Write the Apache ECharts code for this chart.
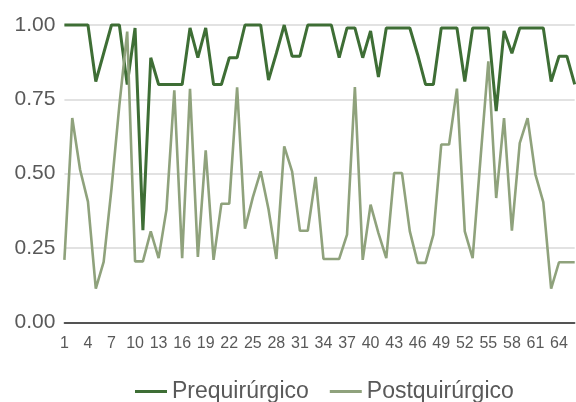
<!DOCTYPE html>
<html>
<head>
<meta charset="utf-8">
<script src="https://cdn.jsdelivr.net/npm/echarts@6/dist/echarts.min.js"></script>
<style>
    html, body { margin: 0; padding: 0; background: #ffffff; }
    #chart { width: 576px; height: 402px; }
</style>
</head>
<body>
<div id="chart"></div>
<script>
// categorias (pacientes)
var categories = ['1', '2', '3', '4', '5', '6', '7', '8', '9', '10',
    '11', '12', '13', '14', '15', '16', '17', '18', '19', '20',
    '21', '22', '23', '24', '25', '26', '27', '28', '29', '30',
    '31', '32', '33', '34', '35', '36', '37', '38', '39', '40',
    '41', '42', '43', '44', '45', '46', '47', '48', '49', '50',
    '51', '52', '53', '54', '55', '56', '57', '58', '59', '60',
    '61', '62', '63', '64', '65', '66'];

var prequirurgico = [1.00, 1.00, 1.00, 1.00, 0.81, 0.905, 1.00, 1.00, 0.80, 0.99,
    0.31, 0.89, 0.80, 0.80, 0.80, 0.80, 0.99, 0.89, 0.99, 0.80,
    0.80, 0.89, 0.89, 1.00, 1.00, 1.00, 0.815, 0.905, 1.00, 0.895,
    0.895, 1.00, 1.00, 1.00, 1.00, 0.89, 0.99, 0.99, 0.89, 0.98,
    0.825, 0.99, 0.99, 0.99, 0.99, 0.90, 0.80, 0.80, 0.99, 0.99,
    0.99, 0.81, 0.99, 0.99, 0.99, 0.71, 0.98, 0.905, 0.99, 0.99,
    0.99, 0.99, 0.81, 0.895, 0.895, 0.80];

var postquirurgico = [0.21, 0.687, 0.513, 0.406, 0.113, 0.203, 0.45, 0.73, 0.978, 0.205,
    0.205, 0.306, 0.216, 0.379, 0.78, 0.216, 0.785, 0.22, 0.578, 0.21,
    0.399, 0.399, 0.79, 0.315, 0.42, 0.508, 0.38, 0.213, 0.592, 0.508,
    0.308, 0.308, 0.489, 0.213, 0.213, 0.213, 0.295, 0.791, 0.21, 0.396,
    0.30, 0.216, 0.502, 0.502, 0.306, 0.20, 0.20, 0.295, 0.598, 0.598,
    0.786, 0.306, 0.216, 0.55, 0.878, 0.418, 0.687, 0.308, 0.603, 0.687,
    0.497, 0.404, 0.113, 0.202, 0.202, 0.202];

var seriesNames = ['Prequirúrgico', 'Postquirúrgico'];

var dom = document.getElementById('chart');
var myChart = echarts.init(dom, null, { renderer: 'canvas' });
var option = {
    animation: false,
    backgroundColor: '#ffffff',
    grid: {
        left: 64.4,
        right: 1.3,
        top: 25,
        bottom: 79.7,
        containLabel: false
    },
    legend: {
        data: seriesNames,
        left: 130,
        top: 375,
        icon: 'rect',
        itemWidth: 32,
        itemHeight: 3,
        itemGap: 21,
        textStyle: {
            fontFamily: 'Liberation Sans',
            fontSize: 23,
            color: '#595959'
        }
    },
    xAxis: {
        type: 'category',
        boundaryGap: false,
        data: categories,
        axisLine: { lineStyle: { color: '#262626', width: 1.5 } },
        axisTick: { show: false },
        axisLabel: {
            interval: 2,
            margin: 13,
            fontFamily: 'Liberation Sans',
            fontSize: 16,
            color: '#595959'
        },
        splitLine: { show: false }
    },
    yAxis: {
        type: 'value',
        min: 0,
        max: 1,
        interval: 0.25,
        axisLine: { show: false },
        axisTick: { show: false },
        axisLabel: {
            margin: 9,
            fontFamily: 'Liberation Sans',
            fontSize: 21,
            color: '#595959',
            formatter: function(v) { return v.toFixed(2); }
        },
        splitLine: { lineStyle: { color: '#d9d9d9', width: 1.5 } }
    },
    series: [{
        name: seriesNames[0],
        type: 'line',
        data: prequirurgico,
        showSymbol: false,
        clip: false,
        color: '#3e6e35',
        lineStyle: { width: 3, color: '#3e6e35' }
    }, {
        name: seriesNames[1],
        type: 'line',
        data: postquirurgico,
        showSymbol: false,
        clip: false,
        color: '#8fa27c',
        lineStyle: { width: 2.6, color: '#8fa27c' }
    }]
};
if (option && typeof option === 'object') {
    myChart.setOption(option, true);
}
</script>
</body>
</html>
